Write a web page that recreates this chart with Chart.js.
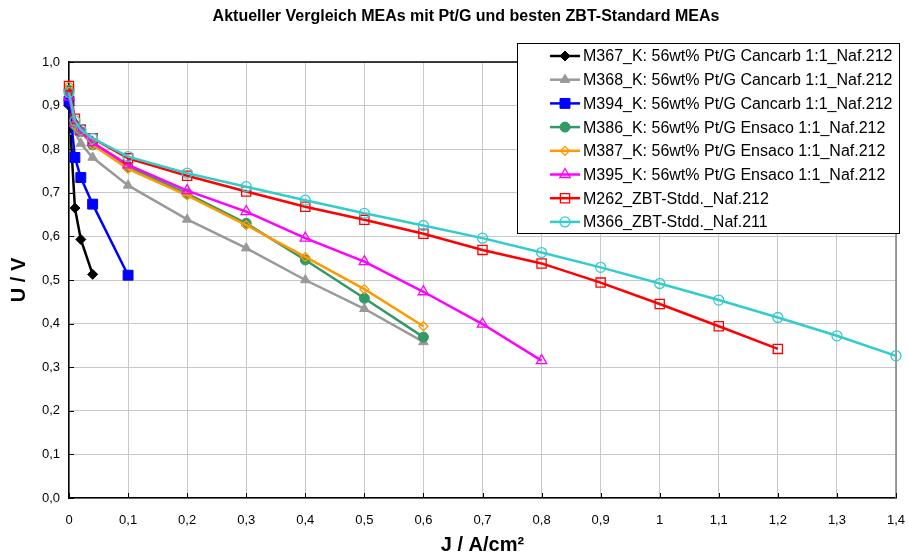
<!DOCTYPE html>
<html lang="de">
<head>
    <meta charset="UTF-8">
    <title>Aktueller Vergleich MEAs</title>
    <style>
        html, body { margin: 0; padding: 0; background: #fff; }
        #wrap { width: 908px; height: 556px; }
    </style>
</head>
<body>
    <div id="wrap"><canvas id="ujChart" width="908" height="556"></canvas></div>

    <script src="https://cdn.jsdelivr.net/npm/chart.js"></script>
    <script>
        // Stromdichte J in A/cm² (gemeinsame Messpunkte, jede Kurve nutzt die ersten n Werte)
        var currentDensity = [0, 0.01, 0.02, 0.04, 0.1, 0.2, 0.3, 0.4, 0.5, 0.6, 0.7, 0.8, 0.9, 1.0, 1.1, 1.2, 1.3, 1.4];

        // Zellspannung U in V
        var uM367 = [0.90, 0.665, 0.593, 0.513];
        var uM368 = [0.93, 0.84, 0.813, 0.781, 0.717, 0.639, 0.573, 0.500, 0.434, 0.358];
        var uM394 = [0.91, 0.781, 0.735, 0.674, 0.511];
        var uM386 = [0.935, 0.855, 0.84, 0.81, 0.76, 0.698, 0.630, 0.546, 0.458, 0.369];
        var uM387 = [0.945, 0.855, 0.84, 0.81, 0.755, 0.694, 0.626, 0.553, 0.479, 0.394];
        var uM395 = [0.92, 0.86, 0.84, 0.815, 0.764, 0.705, 0.657, 0.596, 0.542, 0.473, 0.399, 0.315];
        var uM262 = [0.945, 0.87, 0.845, 0.825, 0.779, 0.739, 0.703, 0.668, 0.638, 0.606, 0.569, 0.538, 0.494, 0.445, 0.394, 0.342];
        var uM366 = [0.93, 0.865, 0.845, 0.825, 0.783, 0.745, 0.714, 0.683, 0.653, 0.625, 0.596, 0.563, 0.529, 0.492, 0.454, 0.414, 0.372, 0.326];

        var seriesNames = [
            'M367_K: 56wt% Pt/G Cancarb 1:1_Naf.212',
            'M368_K: 56wt% Pt/G Cancarb 1:1_Naf.212',
            'M394_K: 56wt% Pt/G Cancarb 1:1_Naf.212',
            'M386_K: 56wt% Pt/G Ensaco 1:1_Naf.212',
            'M387_K: 56wt% Pt/G Ensaco 1:1_Naf.212',
            'M395_K: 56wt% Pt/G Ensaco 1:1_Naf.212',
            'M262_ZBT-Stdd._Naf.212',
            'M366_ZBT-Stdd._Naf.211'
        ];
        var xTicks = [0, 0.1, 0.2, 0.3, 0.4, 0.5, 0.6, 0.7, 0.8, 0.9, 1.0, 1.1, 1.2, 1.3, 1.4];
        var yTicks = [0, 0.1, 0.2, 0.3, 0.4, 0.5, 0.6, 0.7, 0.8, 0.9, 1.0];

        function toPoints(u) {
            return u.map(function (v, i) { return { x: currentDensity[i], y: v }; });
        }

        function series(idx, u, color, style, radius, filled) {
            return {
                label: seriesNames[idx],
                data: toPoints(u),
                borderColor: color,
                backgroundColor: filled ? color : 'rgba(0,0,0,0)',
                borderWidth: 2.5,
                pointStyle: style,
                pointRadius: radius,
                pointHoverRadius: radius,
                pointBorderColor: color,
                pointBackgroundColor: filled ? color : 'rgba(0,0,0,0)',
                pointBorderWidth: filled ? 1 : 1.3,
                tension: 0,
                clip: false,
                order: 7 - idx
            };
        }

        function deComma(v, trimInt) {
            var r = Math.round(v * 10) / 10;
            if (trimInt && r % 1 === 0) return String(r);
            return r.toFixed(1).replace('.', ',');
        }

        var FONT = "Arial, 'Liberation Sans', sans-serif";
        Chart.defaults.font.family = FONT;
        Chart.defaults.color = '#000';

        // Titel, Rahmen und innenliegende Teilstriche
        var framePlugin = {
            id: 'frame',
            beforeDatasetsDraw: function (chart) {
                var ctx = chart.ctx, a = chart.chartArea;
                var xs = chart.scales.x, ys = chart.scales.y;
                ctx.save();
                ctx.lineWidth = 1.5;
                ctx.strokeStyle = '#808080';
                ctx.beginPath();
                ctx.moveTo(a.right, a.top);
                ctx.lineTo(a.right, a.bottom);
                ctx.stroke();
                ctx.strokeStyle = '#000';
                ctx.beginPath();
                ctx.moveTo(a.left, a.top);
                ctx.lineTo(a.right, a.top);
                ctx.stroke();
                ctx.lineWidth = 1;
                ctx.beginPath();
                yTicks.forEach(function (t) {
                    var py = Math.round(ys.getPixelForValue(t)) + 0.5;
                    ctx.moveTo(a.left, py);
                    ctx.lineTo(a.left + 5, py);
                });
                xTicks.forEach(function (t) {
                    var px = Math.round(xs.getPixelForValue(t)) + 0.5;
                    ctx.moveTo(px, a.bottom);
                    ctx.lineTo(px, a.bottom - 5);
                });
                ctx.stroke();
                ctx.restore();
            },
            afterDraw: function (chart) {
                var ctx = chart.ctx;
                ctx.save();
                ctx.fillStyle = '#000';
                ctx.font = 'bold 16px ' + FONT;
                ctx.textAlign = 'center';
                ctx.textBaseline = 'middle';
                ctx.fillText('Aktueller Vergleich MEAs mit Pt/G und besten ZBT-Standard MEAs', 466, 17);

                // Legende im Diagrammbereich oben rechts
                var box = { x: 517.5, y: 43.5, w: 382, h: 190 };
                ctx.fillStyle = '#fff';
                ctx.fillRect(box.x, box.y, box.w, box.h);
                ctx.strokeStyle = '#000';
                ctx.lineWidth = 1;
                ctx.strokeRect(box.x, box.y, box.w, box.h);
                ctx.font = '16px ' + FONT;
                ctx.textAlign = 'left';
                chart.data.datasets.forEach(function (ds, i) {
                    var cy = 56 + i * 23.7;
                    ctx.strokeStyle = ds.borderColor;
                    ctx.lineWidth = ds.borderWidth;
                    ctx.beginPath();
                    ctx.moveTo(550, cy);
                    ctx.lineTo(580, cy);
                    ctx.stroke();
                    ctx.fillStyle = ds.pointBackgroundColor;
                    ctx.strokeStyle = ds.pointBorderColor;
                    ctx.lineWidth = ds.pointBorderWidth;
                    Chart.helpers.drawPoint(ctx, {
                        pointStyle: ds.pointStyle,
                        radius: ds.pointRadius,
                        rotation: 0,
                        borderWidth: ds.pointBorderWidth
                    }, 565, cy);
                    ctx.fillStyle = '#000';
                    ctx.fillText(ds.label, 583, cy + 1);
                });
                ctx.restore();
            }
        };

        var ctx = document.getElementById('ujChart').getContext('2d');
        var ujChart = new Chart(ctx, {
            type: 'line',
            data: {
                datasets: [
                    series(0, uM367, '#000000', 'rectRot', 5, true),
                    series(1, uM368, '#999999', 'triangle', 5.5, true),
                    series(2, uM394, '#0000ff', 'rect', 7, true),
                    series(3, uM386, '#339966', 'circle', 5, true),
                    series(4, uM387, '#ff9900', 'rectRot', 4.5, false),
                    series(5, uM395, '#ff00ff', 'triangle', 6, false),
                    series(6, uM262, '#ff0000', 'rect', 6.5, false),
                    series(7, uM366, '#33cccc', 'circle', 5, false)
                ]
            },
            options: {
                responsive: false,
                animation: false,
                devicePixelRatio: 1,
                layout: { padding: { top: 62, right: 12, left: 0, bottom: 0 } },
                plugins: {
                    legend: { display: false },
                    title: { display: false },
                    tooltip: { enabled: false }
                },
                scales: {
                    x: {
                        type: 'linear',
                        min: 0,
                        max: 1.4,
                        afterFit: function (scale) {
                            scale.height = 58;
                            scale.paddingLeft = 0;
                            scale.paddingRight = 0;
                        },
                        afterBuildTicks: function (scale) {
                            scale.ticks = xTicks.map(function (v) { return { value: v }; });
                        },
                        ticks: {
                            padding: 15,
                            font: { size: 13 },
                            maxRotation: 0,
                            callback: function (v) { return deComma(v, true); }
                        },
                        grid: { color: '#c8c8c8', lineWidth: 1, drawTicks: false },
                        border: { color: '#000', width: 1.5 },
                        title: {
                            display: true,
                            text: 'J / A/cm²',
                            font: { size: 20, weight: 'bold' },
                            padding: { top: 0, bottom: -1 }
                        }
                    },
                    y: {
                        type: 'linear',
                        min: 0,
                        max: 1.0,
                        afterFit: function (scale) {
                            scale.width = 69;
                            scale.paddingTop = 0;
                            scale.paddingBottom = 0;
                        },
                        afterBuildTicks: function (scale) {
                            scale.ticks = yTicks.map(function (v) { return { value: v }; });
                        },
                        ticks: {
                            padding: 9,
                            font: { size: 13 },
                            callback: function (v) { return deComma(v, false); }
                        },
                        grid: { color: '#c8c8c8', lineWidth: 1, drawTicks: false },
                        border: { color: '#000', width: 1.5 },
                        title: {
                            display: true,
                            text: 'U / V',
                            font: { size: 20, weight: 'bold' },
                            padding: { top: 7, bottom: 0 }
                        }
                    }
                }
            },
            plugins: [framePlugin]
        });
    </script>
</body>
</html>
